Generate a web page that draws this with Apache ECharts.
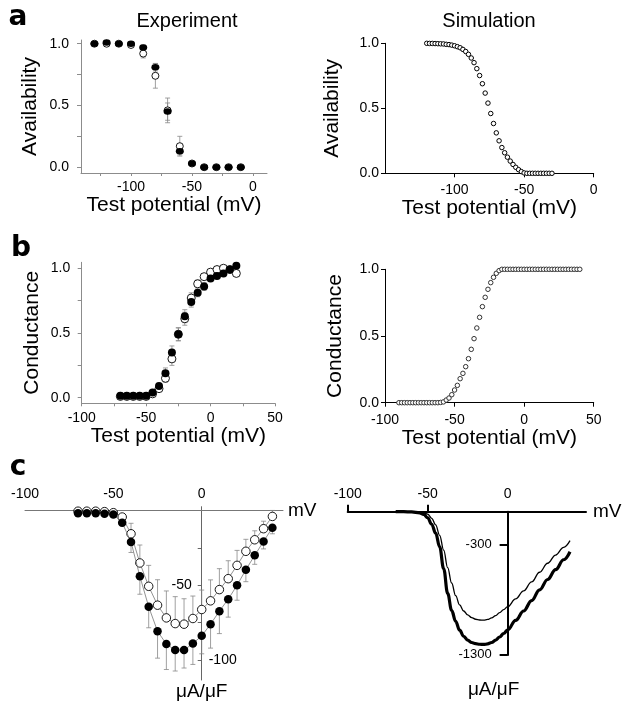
<!DOCTYPE html>
<html><head><meta charset="utf-8">
<script src="https://cdn.jsdelivr.net/npm/echarts@6/dist/echarts.min.js"></script>
<style>html,body{margin:0;padding:0;background:#fff}#c{width:623px;height:708px}</style>
</head><body><div id="c"></div>
<script>
// ---------- data ----------
// a: availability, experiment
const aExpV = [-130,-120,-110,-100,-90,-80,-70,-60,-50,-40,-30,-20,-10];
const aExpFilled = [1.00,1.01,1.00,1.00,0.97,0.81,0.45,0.13,0.03,0.00,0.00,0.00,0.00];
const aExpOpen   = [1.00,1.00,1.00,0.99,0.92,0.74,0.46,0.17,0.03,0.00,0.00,0.00,0.00];
const aExpOpenErr   = [0.01,0.01,0.01,0.01,0.035,0.10,0.10,0.08,0.01,0,0,0,0];
const aExpFilledErr = [0.01,0.01,0.01,0.01,0.02,0.03,0.07,0.03,0.01,0,0,0,0];
// a: availability, simulation
const aSimV = [-120,-118,-116,-114,-112,-110,-108,-106,-104,-102,-100,-98,-96,-94,-92,-90,-88,-86,-84,-82,-80,-78,-76,-74,-72,-70,-68,-66,-64,-62,-60,-58,-56,-54,-52,-50,-48,-46,-44,-42,-40,-38,-36,-34,-32,-30];
const aSimY = [1.000,0.999,0.999,0.998,0.997,0.996,0.995,0.992,0.990,0.986,0.981,0.974,0.966,0.953,0.937,0.915,0.887,0.851,0.805,0.752,0.689,0.617,0.540,0.460,0.383,0.311,0.250,0.198,0.158,0.124,0.094,0.068,0.046,0.028,0.013,0.003,0,0,0,0,0,0,0,0,0,0];
// b: conductance, experiment
const bExpV = [-70,-65,-60,-55,-50,-45,-40,-35,-30,-25,-20,-15,-10,-5,0,5,10,15,20];
const bExpFilled = [0.015,0.015,0.015,0.015,0.015,0.04,0.09,0.19,0.35,0.49,0.63,0.74,0.81,0.86,0.92,0.94,0.96,0.99,1.02];
const bExpOpen   = [0.01,0.01,0.01,0.01,0.01,0.03,0.07,0.15,0.30,0.49,0.61,0.77,0.88,0.935,0.97,0.99,1.00,0.99,0.96];
const bExpFilledErr = [0,0,0,0,0,0.01,0.02,0.04,0.05,0.05,0.05,0.04,0.03,0.03,0.02,0.02,0.02,0.02,0.02];
const bExpOpenErr   = [0,0,0,0,0,0.01,0.02,0.03,0.05,0.05,0.05,0.04,0.03,0.02,0.02,0.02,0.02,0.02,0.02];
// b: conductance, simulation
const bSimV = [-90,-88,-86,-84,-82,-80,-78,-76,-74,-72,-70,-68,-66,-64,-62,-60,-58,-56,-54,-52,-50,-48,-46,-44,-42,-40,-38,-36,-34,-32,-30,-28,-26,-24,-22,-20,-18,-16,-14,-12,-10,-8,-6,-4,-2,0,2,4,6,8,10,12,14,16,18,20,22,24,26,28,30,32,34,36,38,40];
const bSimY = [0,0,0,0,0,0,0,0,0,0,0,0,0,0,0,0.002,0.006,0.02,0.035,0.06,0.095,0.13,0.18,0.22,0.27,0.33,0.40,0.48,0.56,0.64,0.72,0.79,0.85,0.90,0.94,0.97,0.99,1,1,1,1,1,1,1,1,1,1,1,1,1,1,1,1,1,1,1,1,1,1,1,1,1,1,1,1,1];
// c: current-voltage, experiment
const cExpV = [-70,-65,-60,-55,-50,-45,-40,-35,-30,-25,-20,-15,-10,-5,0,5,10,15,20,25,30,35,40];
const cExpFilled = [-1.8,-1.8,-1.8,-2.2,-2.7,-8.2,-21.1,-44.0,-64.4,-80.7,-89.3,-93.3,-93.3,-88.9,-83.8,-76.0,-67.3,-59.3,-50.0,-39.6,-30.0,-20.7,-11.6];
const cExpOpen   = [-0.5,-0.5,-0.5,-0.8,-1.5,-4.4,-15.6,-35.1,-50.7,-63.3,-71.8,-75.6,-76.0,-72.2,-66.2,-60.4,-52.9,-45.6,-36.7,-27.3,-19.6,-12.2,-4.0];
const cExpOpenErrUp     = [0,0,0,0,0.5,2,7,12,14,17,18,18,17,15,13,14,14,12,10,8,6,5,4];
const cExpFilledErrDown = [0,0,0,0,0.5,2,7,12,14,18,17,14,12,14,12,16,15,12,10,8,6,5,4];
// c: current-voltage, simulation
const cSimV     = [-70,-65,-60,-55,-52.5,-50,-47.5,-45,-42.5,-40,-37.5,-35,-32.5,-30,-27.5,-25,-22.5,-20,-17.5,-15,-12.5,-10,-7.5,-5,-2.5,0,5,10,15,20,25,30,35,39];
const cSimThin  = [0,0,-1,-3,-8,-22,-60,-120,-215,-350,-510,-650,-765,-850,-905,-940,-965,-980,-987,-988,-982,-968,-948,-920,-893,-866,-795,-722,-640,-552,-470,-395,-325,-264];
const cSimThick = [0,0,-2,-10,-25,-55,-115,-195,-320,-520,-744,-900,-1000,-1080,-1135,-1170,-1192,-1203,-1208,-1210,-1205,-1192,-1170,-1142,-1110,-1078,-990,-905,-810,-712,-618,-528,-438,-365];
// tick labels
const aExpXTicks = [-125,-100,-75,-50,-25,0], aExpXLabels = [-100,-50,0];
const aSimXTicks = [-100,-50,0], aSimXLabels = [-100,-50,0];
const bXTicks = [-100,-75,-50,-25,0,25,50], bXLabels = [-100,-50,0,50];
const bSimXTicks = [-100,-50,0,50];
const yTicksQ = [0,0.25,0.5,0.75,1], yLabels01 = [0,0.5,1];
const cExpXLabels = [-100,-50,0];
const cExpYTicks = [-25,-50,-75,-100];
const cExpYLabelOut = [-50], cExpYLabelIn = [-100];
const cSimXTicks = [-100,-50], cSimXLabels = [-100,-50,0];
const cSimYTicks = [-300,-1300];

// ---------- helpers ----------
const FONT = '"Liberation Sans", Arial, sans-serif';
const zip = (a, b) => a.map((v, i) => [v, b[i]]);
const fx1 = v => v.toFixed(1);
const plain = v => String(v);

function axis(gi, o) {
  return {
    type: 'value', gridIndex: gi, min: o.min, max: o.max, position: o.pos, offset: o.offset || 0,
    axisLine: { show: o.line !== false, onZero: false, lineStyle: { color: o.color, width: o.lw || 1 } },
    axisTick: { show: !!o.ticks, customValues: o.ticks, length: o.tl || 3, lineStyle: { color: o.color, width: o.lw || 1 } },
    axisLabel: { show: !!o.labels, customValues: o.labels, margin: o.lm, inside: !!o.inside, fontSize: o.fs || 14,
                 color: '#000', fontFamily: FONT, formatter: o.fmt || plain },
    splitLine: { show: false },
    name: o.name, nameLocation: o.nl || 'middle', nameGap: o.ng,
    nameTextStyle: Object.assign({ fontSize: o.nfs || 21, color: '#000', fontFamily: FONT }, o.nts || {})
  };
}

function errBars(xi, V, Y, up, down, color) {
  return {
    type: 'custom', xAxisIndex: xi, yAxisIndex: xi, silent: true, z: 1,
    encode: { x: 0, y: 1 },
    data: V.map((v, i) => [v, Y[i], up ? up[i] : 0, down ? down[i] : 0]),
    renderItem: function (params, api) {
      const x = api.value(0), y = api.value(1), eu = api.value(2), ed = api.value(3);
      const st = { stroke: color || '#888', lineWidth: 0.8 };
      const ch = [];
      const c0 = api.coord([x, y]);
      const w = 2.5;
      if (eu > 0) {
        const p = api.coord([x, y + eu]);
        ch.push({ type: 'line', shape: { x1: c0[0], y1: c0[1], x2: p[0], y2: p[1] }, style: st });
        ch.push({ type: 'line', shape: { x1: p[0] - w, y1: p[1], x2: p[0] + w, y2: p[1] }, style: st });
      }
      if (ed > 0) {
        const p = api.coord([x, y - ed]);
        ch.push({ type: 'line', shape: { x1: c0[0], y1: c0[1], x2: p[0], y2: p[1] }, style: st });
        ch.push({ type: 'line', shape: { x1: p[0] - w, y1: p[1], x2: p[0] + w, y2: p[1] }, style: st });
      }
      return { type: 'group', children: ch };
    }
  };
}

function scat(xi, V, Y, size, fill, border, bw, z) {
  return { type: 'scatter', xAxisIndex: xi, yAxisIndex: xi, data: zip(V, Y), symbol: 'circle', symbolSize: size, z: z || 3,
           itemStyle: { color: fill, borderColor: border, borderWidth: bw, opacity: 1 }, emphasis: { disabled: true } };
}

const EXPC = '#8c8c8c';
const grids = [
  { left: 81,    top: 40,    width: 186,   height: 133 },
  { left: 385,   top: 43.3,  width: 208.7, height: 130 },
  { left: 81.7,  top: 262.3, width: 193.3, height: 141 },
  { left: 385,   top: 269.3, width: 208.7, height: 133.4 },
  { left: 25,    top: 506.7, width: 258,   height: 173.3 },
  { left: 347.7, top: 511.7, width: 238.3, height: 143.3 }
].map(g => Object.assign({ containLabel: false, outerBoundsMode: 'none' }, g));

// panel c axes cross at zero: place them there via offsets derived from the axis ranges
const cL = { xmin: -100, xmax: 46, ymin: -113.3, ymax: 2.5 };
const cR = { xmin: -100, xmax: 49, ymin: -1306, ymax: 0 };
const zeroOffX = (r, g) => -((0 - r.xmin) / (r.xmax - r.xmin)) * g.width;   // y axis moved right to x = 0
const zeroOffY = (r, g) => -((r.ymax - 0) / (r.ymax - r.ymin)) * g.height;  // x axis moved down to y = 0

const xAxes = [
  axis(0, { min: -141, max: 11.5, pos: 'bottom', color: EXPC, ticks: aExpXTicks, labels: aExpXLabels, lm: 7, name: 'Test potential (mV)', ng: 19 }),
  axis(1, { min: -150, max: 0, pos: 'bottom', color: '#000', ticks: aSimXTicks, tl: 4, labels: aSimXLabels, lm: 10, name: 'Test potential (mV)', ng: 21 }),
  axis(2, { min: -100, max: 50, pos: 'bottom', color: EXPC, ticks: bXTicks, labels: bXLabels, lm: 8, name: 'Test potential (mV)', ng: 21 }),
  axis(3, { min: -100, max: 50, pos: 'bottom', color: '#000', ticks: bSimXTicks, tl: 4, labels: bXLabels, lm: 10, name: 'Test potential (mV)', ng: 23 }),
  axis(4, { min: cL.xmin, max: cL.xmax, pos: 'top', offset: zeroOffY(cL, grids[4]), color: '#777', labels: cExpXLabels, lm: 9.5, name: 'mV', nl: 'end', ng: 5, nfs: 19 }),
  axis(5, { min: cR.xmin, max: cR.xmax, pos: 'top', offset: zeroOffY(cR, grids[5]), color: '#000', lw: 2, ticks: cSimXTicks, tl: 7, labels: cSimXLabels, lm: 11, name: 'mV', nl: 'end', ng: 7, nfs: 19 })
];
const yAxes = [
  axis(0, { min: -0.047, max: 1.03, pos: 'left', color: EXPC, ticks: yTicksQ, tl: 4, labels: yLabels01, lm: 12, fmt: fx1, name: 'Availability', ng: 40 }),
  axis(1, { min: 0, max: 1, pos: 'left', color: '#000', ticks: yLabels01, tl: 4, labels: yLabels01, lm: 6, fmt: fx1, name: 'Availability', ng: 42 }),
  axis(2, { min: -0.043, max: 1.046, pos: 'left', color: EXPC, ticks: yTicksQ, tl: 4, labels: yLabels01, lm: 11.5, fmt: fx1, name: 'Conductance', ng: 39 }),
  axis(3, { min: 0, max: 1, pos: 'left', color: '#000', ticks: yLabels01, tl: 4, labels: yLabels01, lm: 6, fmt: fx1, name: 'Conductance', ng: 39.5 }),
  axis(4, { min: cL.ymin, max: cL.ymax, pos: 'left', offset: zeroOffX(cL, grids[4]), color: '#666', ticks: cExpYTicks, tl: 4, labels: cExpYLabelOut, lm: 10, name: 'μA/μF', nl: 'start', ng: 2, nfs: 19 }),
  axis(5, { min: cR.ymin, max: cR.ymax, pos: 'left', offset: zeroOffX(cR, grids[5]), color: '#000', lw: 2, ticks: cSimYTicks, tl: 8, labels: cSimYTicks, lm: 16, fs: 13, name: 'μA/μF', nl: 'start', ng: 25, nfs: 19, nts: { padding: [0, 28, 0, 0] } }),
  axis(4, { min: cL.ymin, max: cL.ymax, pos: 'left', offset: zeroOffX(cL, grids[4]), line: false, color: '#666', labels: cExpYLabelIn, inside: true, lm: 7 })
];

const series = [
  // a experiment
  errBars(0, aExpV, aExpOpen, aExpOpenErr, aExpOpenErr),
  errBars(0, aExpV, aExpFilled, aExpFilledErr, aExpFilledErr),
  scat(0, aExpV, aExpOpen, 7, '#fff', '#000', 0.9, 3),
  scat(0, aExpV, aExpFilled, [8, 6.5], '#000', '#000', 0, 4),
  // a simulation
  scat(1, aSimV, aSimY, 4.5, '#fff', '#000', 1, 3),
  // b experiment
  errBars(2, bExpV, bExpOpen, bExpOpenErr, bExpOpenErr),
  errBars(2, bExpV, bExpFilled, bExpFilledErr, bExpFilledErr),
  scat(2, bExpV, bExpOpen, 8, '#fff', '#000', 0.9, 3),
  scat(2, bExpV, bExpFilled, 8, '#000', '#000', 0, 4),
  // b simulation
  scat(3, bSimV, bSimY, 4.5, '#fff', '#333', 1, 3),
  // c experiment
  errBars(4, cExpV, cExpOpen, cExpOpenErrUp, null),
  errBars(4, cExpV, cExpFilled, null, cExpFilledErrDown),
  { type: 'line', xAxisIndex: 4, yAxisIndex: 4, data: zip(cExpV, cExpOpen), z: 3, symbol: 'circle', symbolSize: 8.5,
    lineStyle: { color: '#777', width: 0.8 }, itemStyle: { color: '#fff', borderColor: '#000', borderWidth: 0.9 }, emphasis: { disabled: true } },
  { type: 'line', xAxisIndex: 4, yAxisIndex: 4, data: zip(cExpV, cExpFilled), z: 4, symbol: 'circle', symbolSize: 8.5,
    lineStyle: { color: '#777', width: 0.8 }, itemStyle: { color: '#000', borderColor: '#000', borderWidth: 0 }, emphasis: { disabled: true } },
  // c simulation
  { type: 'line', xAxisIndex: 5, yAxisIndex: 5, data: zip(cSimV, cSimThin), showSymbol: false, smooth: 0.4, smoothMonotone: 'x',
    lineStyle: { color: '#000', width: 1.3 }, emphasis: { disabled: true } },
  { type: 'line', xAxisIndex: 5, yAxisIndex: 5, data: zip(cSimV, cSimThick), showSymbol: false, smooth: 0.4, smoothMonotone: 'x',
    lineStyle: { color: '#000', width: 3.2 }, emphasis: { disabled: true } }
];

function txt(t, x, y, font) {
  return { type: 'text', x: x, y: y, silent: true,
    style: { text: t, font: font, fill: '#000', align: 'center', verticalAlign: 'middle', textAlign: 'center', textVerticalAlign: 'middle' } };
}
const LET = 'bold 28px "DejaVu Sans", sans-serif';
const TTL = '20px ' + FONT;
const graphic = [
  txt('a', 18, 17.5, LET),
  txt('b', 21, 248.5, LET),
  txt('c', 18, 467.5, LET),
  txt('Experiment', 187, 21.6, TTL),
  txt('Simulation', 489, 21.6, TTL)
];

const chart = echarts.init(document.getElementById('c'), null, { renderer: 'canvas' });
chart.setOption({
  animation: false,
  backgroundColor: '#fff',
  grid: grids, xAxis: xAxes, yAxis: yAxes, series: series, graphic: graphic
});
</script></body></html>
